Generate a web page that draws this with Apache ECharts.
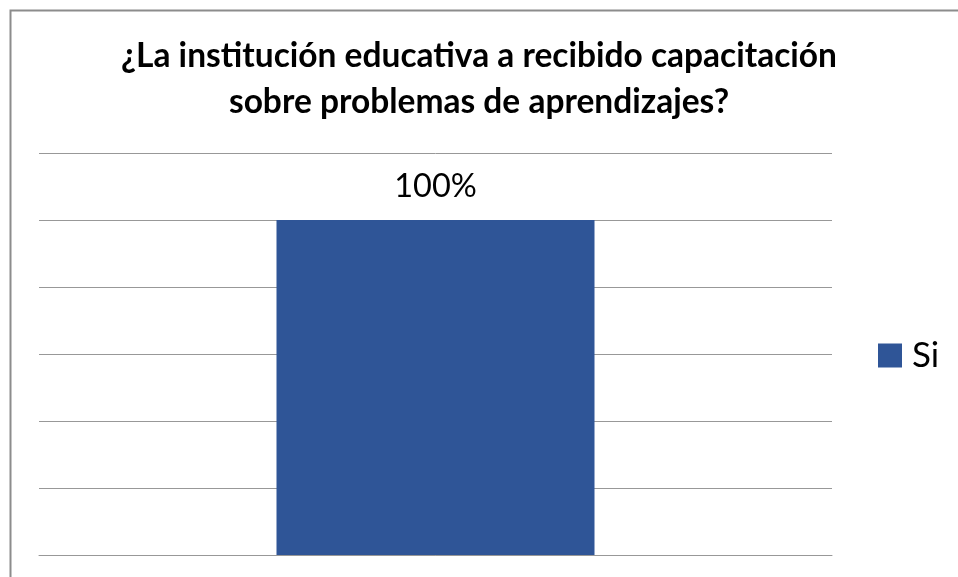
<!DOCTYPE html>
<html>
<head>
<meta charset="utf-8">
<script src="https://cdn.jsdelivr.net/npm/echarts@6/dist/echarts.min.js"></script>
<style>
html,body{margin:0;padding:0;background:#fff;}
#chart{width:958px;height:577px;}
</style>
</head>
<body>
<div id="chart"></div>
<script>
const titleText = "¿La institución educativa a recibido capacitación\nsobre problemas de aprendizajes?";
const categories = ["Si"];
const seriesName = "Si";
const values = [1.0];
const yMin = 0, yMax = 1.2, yInterval = 0.2;

const chart = echarts.init(document.getElementById('chart'), null, {renderer: 'canvas'});
chart.setOption({
  animation: false,
  backgroundColor: '#ffffff',
  graphic: [{
    type: 'rect', left: 8, top: 8, silent: true,
    shape: {x: 0, y: 0, width: 1200, height: 1000},
    style: {fill: 'none', stroke: '#8c8c8c', lineWidth: 2}
  }],
  title: {
    text: titleText,
    left: 'center',
    top: 28,
    textStyle: {fontFamily: 'Lato', fontWeight: 'bold', fontSize: 33.5, color: '#000', lineHeight: 46}
  },
  legend: {
    left: 873, top: 333,
    itemWidth: 24, itemHeight: 24,
    icon: 'rect',
    textStyle: {fontFamily: 'Lato', fontSize: 35, color: '#000', padding: [0, 0, 0, 5]},
    data: [seriesName]
  },
  grid: {left: 39, right: 126, top: 153, bottom: 22, containLabel: false},
  xAxis: {
    type: 'category', data: categories,
    axisLine: {show: true, lineStyle: {color: '#989898', width: 1}},
    axisTick: {show: false}, axisLabel: {show: false}
  },
  yAxis: {
    type: 'value', min: yMin, max: yMax, interval: yInterval,
    axisLine: {show: false}, axisTick: {show: false}, axisLabel: {show: false},
    splitLine: {show: true, lineStyle: {color: '#989898', width: 1}}
  },
  series: [{
    name: seriesName, type: 'bar', data: values, barWidth: 318,
    itemStyle: {color: '#2f5597'},
    label: {
      show: true, position: 'top', distance: 17,
      formatter: p => Math.round(p.value * 100) + '%',
      fontFamily: 'Lato', fontSize: 32.5, color: '#000'
    }
  }]
});
</script>
</body>
</html>
